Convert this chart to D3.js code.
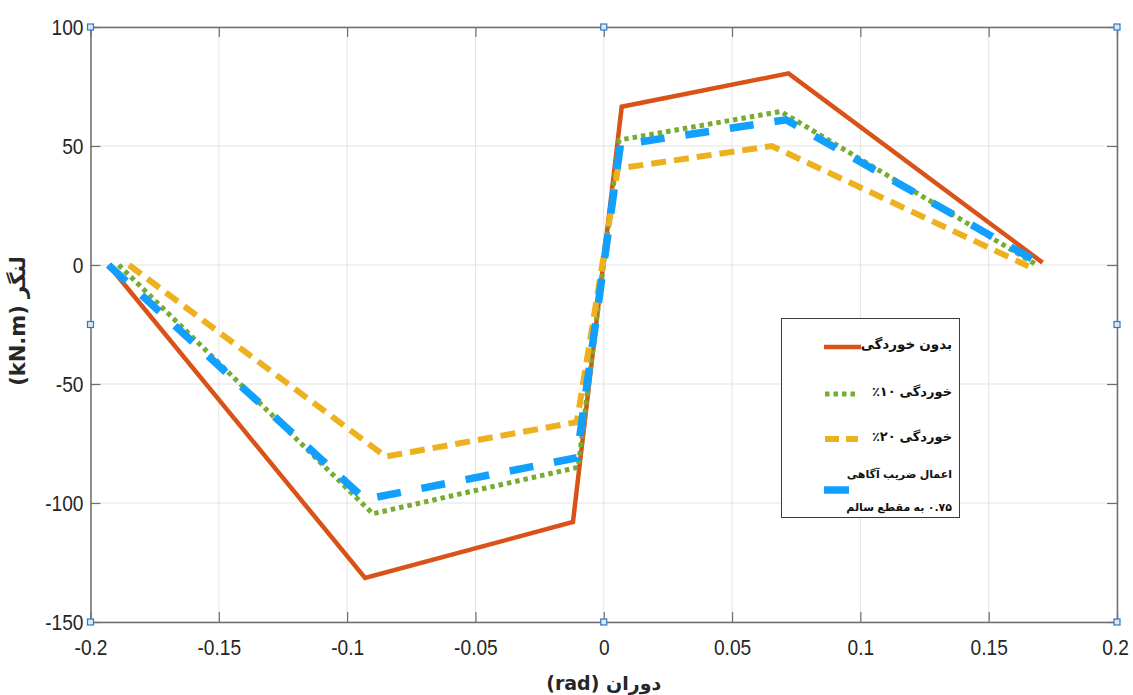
<!DOCTYPE html>
<html>
<head>
<meta charset="utf-8">
<script src="https://cdn.jsdelivr.net/npm/d3@7"></script>
<style>
  body { margin: 0; background: #fff; }
  svg { display: block; }
  .tick text { font-family: "Liberation Sans", Arial, sans-serif; }
</style>
</head>
<body>
<svg id="chart" width="1133" height="695"></svg>
<script>
// rotation (rad) / moment (kN.m)
const noCorrosionX = [-0.193, -0.093, -0.012, 0.007, 0.072, 0.171];
const noCorrosionY = [0, -131.5, -108, 66.5, 80.5, 1];
const corr10X = [-0.189, -0.090, -0.010, 0.006, 0.069, 0.168];
const corr10Y = [0, -104.5, -85, 52.5, 64.5, 0.5];
const corr20X = [-0.185, -0.085, -0.0105, 0.0055, 0.0655, 0.1655];
const corr20Y = [0, -80.5, -66, 40.5, 50, -0.5];
const factorX = [-0.193, -0.093, -0.0105, 0.0065, 0.071, 0.171];
const factorY = [0, -98.5, -81, 50.5, 61, 0];

const xTicks = [-0.2, -0.15, -0.1, -0.05, 0, 0.05, 0.1, 0.15, 0.2];
const yTicks = [-150, -100, -50, 0, 50, 100];

// legend words in reading order (right to left on screen)
const legendWords = [
  [['بدون', 'خوردگی']],
  [['خوردگی', '٪۱۰']],
  [['خوردگی', '٪۲۰']],
  [['اعمال', 'ضریب', 'آگاهی'], ['۰.۷۵', 'به', 'مقطع', 'سالم']]
];

const series = [
  { xs: noCorrosionX, ys: noCorrosionY, color: '#D95319', width: 4.5, dash: null },
  { xs: corr10X, ys: corr10Y, color: '#77AC30', width: 5, dash: '4.5,4' },
  { xs: corr20X, ys: corr20Y, color: '#EDB120', width: 6, dash: '15,8' },
  { xs: factorX, ys: factorY, color: '#12A0FF', width: 7.5, dash: '24,21' }
];

const svg = d3.select('#chart');
const plotL = 90.5, plotR = 1117, plotT = 27, plotB = 622;

const x = d3.scaleLinear().domain([-0.2, 0.2]).range([plotL, plotR]);
const y = d3.scaleLinear().domain([-150, 100]).range([plotB, plotT]);

// grid
const grid = svg.append('g');
grid.selectAll('.gx').data(xTicks).enter().append('line')
  .attr('x1', d => x(d)).attr('x2', d => x(d))
  .attr('y1', plotT).attr('y2', plotB)
  .attr('stroke', '#e3e3e3').attr('stroke-width', 1);
grid.selectAll('.gy').data(yTicks).enter().append('line')
  .attr('x1', plotL).attr('x2', plotR)
  .attr('y1', d => y(d)).attr('y2', d => y(d))
  .attr('stroke', '#e3e3e3').attr('stroke-width', 1);

// axes, ticks pointing inward on all sides
const fmt = d => d3.format('')(d).replace('−', '-');
const axisColor = '#6e6e6e';
const xAxisB = svg.append('g').attr('transform', `translate(0,${plotB})`)
  .call(d3.axisBottom(x).tickValues(xTicks).tickSizeInner(-10).tickSizeOuter(0).tickPadding(17).tickFormat(fmt));
const xAxisT = svg.append('g').attr('transform', `translate(0,${plotT})`)
  .call(d3.axisTop(x).tickValues(xTicks).tickSizeInner(-10).tickSizeOuter(0).tickFormat(''));
const yAxisL = svg.append('g').attr('transform', `translate(${plotL},0)`)
  .call(d3.axisLeft(y).tickValues(yTicks).tickSizeInner(-10).tickSizeOuter(0).tickPadding(7).tickFormat(fmt));
const yAxisR = svg.append('g').attr('transform', `translate(${plotR},0)`)
  .call(d3.axisRight(y).tickValues(yTicks).tickSizeInner(-10).tickSizeOuter(0).tickFormat(''));
[xAxisB, xAxisT, yAxisL, yAxisR].forEach(a => {
  a.select('.domain').attr('stroke', axisColor).attr('stroke-width', 1.5);
  a.selectAll('.tick line').attr('stroke', axisColor).attr('stroke-width', 1.2);
  a.selectAll('.tick text').attr('fill', '#262626').attr('font-size', 22);
});
// the reference labels are a bit narrower than the font
[xAxisB, yAxisL].forEach(a => {
  a.selectAll('.tick text').each(function () {
    const w = this.getComputedTextLength();
    d3.select(this).attr('textLength', w * 0.87).attr('lengthAdjust', 'spacingAndGlyphs');
  });
});
// keep the last label inside the window
xAxisB.selectAll('.tick text').filter(d => d === 0.2).attr('x', -2);

// data lines
const line = d3.line().x(d => x(d[0])).y(d => y(d[1]));
series.forEach(s => {
  svg.append('path')
    .datum(d3.zip(s.xs, s.ys))
    .attr('d', line)
    .attr('fill', 'none')
    .attr('stroke', s.color)
    .attr('stroke-width', s.width)
    .attr('stroke-dasharray', s.dash)
    .attr('stroke-linejoin', 'miter');
});

// axis titles
svg.append('text')
  .attr('x', (plotL + plotR) / 2).attr('y', 690)
  .attr('text-anchor', 'middle').attr('direction', 'rtl')
  .attr('font-family', 'DejaVu Sans, sans-serif').attr('font-weight', 'bold')
  .attr('font-size', 19).attr('fill', '#262626')
  .text('دوران (rad)');
svg.append('text')
  .attr('transform', `translate(25,321) rotate(-90)`)
  .attr('text-anchor', 'middle').attr('direction', 'rtl')
  .attr('font-family', 'DejaVu Sans, sans-serif').attr('font-weight', 'bold')
  .attr('font-size', 21).attr('fill', '#262626')
  .text('لنگر (kN.m)');

// legend
const lg = svg.append('g');
lg.append('rect')
  .attr('x', 781.5).attr('y', 318.5).attr('width', 178).attr('height', 199)
  .attr('fill', '#fff').attr('stroke', '#3c3c3c').attr('stroke-width', 1);
const legendRows = [
  { y: 347, x1: 824, x2: 861 },
  { y: 394, x1: 825, x2: 858 },
  { y: 439, x1: 825, x2: 858 },
  { y: 490, x1: 824, x2: 849 }
];

// words placed one by one from the right edge leftwards
const drawWords = (words, xRight, yMid, size) => {
  const gap = size * 0.3;
  let cx = xRight;
  words.forEach(w => {
    const t = lg.append('text')
      .attr('y', yMid)
      .attr('dominant-baseline', 'middle')
      .attr('text-anchor', 'start')
      .attr('font-family', 'DejaVu Sans, sans-serif').attr('font-weight', 'bold')
      .attr('font-size', size).attr('fill', '#111')
      .text(w);
    const width = t.node().getComputedTextLength();
    t.attr('x', cx - width);
    cx -= width + gap;
  });
};

legendRows.forEach((r, i) => {
  const s = series[i];
  lg.append('line')
    .attr('x1', r.x1).attr('x2', r.x2).attr('y1', r.y).attr('y2', r.y)
    .attr('stroke', s.color).attr('stroke-width', s.width)
    .attr('stroke-dasharray', i === 1 ? '4.5,4' : (i === 2 ? '14,7' : null));
  const lines = legendWords[i];
  if (lines.length === 1) {
    drawWords(lines[0], 952, r.y - 2, i === 0 ? 13.5 : 13);
  } else {
    lines.forEach((words, j) => drawWords(words, 952, r.y - 15 + j * 33, 11));
  }
});

// selection handles on the axes box
const handleX = [plotL, (plotL + plotR) / 2, plotR];
const handleY = [plotT, (plotT + plotB) / 2, plotB];
const handles = [];
handleX.forEach((hx, i) => handleY.forEach((hy, j) => {
  if (!(i === 1 && j === 1)) handles.push([hx, hy]);
}));
svg.selectAll('.handle').data(handles).enter().append('rect')
  .attr('x', d => d[0] - 3).attr('y', d => d[1] - 3)
  .attr('width', 6).attr('height', 6)
  .attr('fill', '#dbe9f7').attr('stroke', '#2f78c4').attr('stroke-width', 1.2);
</script>
</body>
</html>
